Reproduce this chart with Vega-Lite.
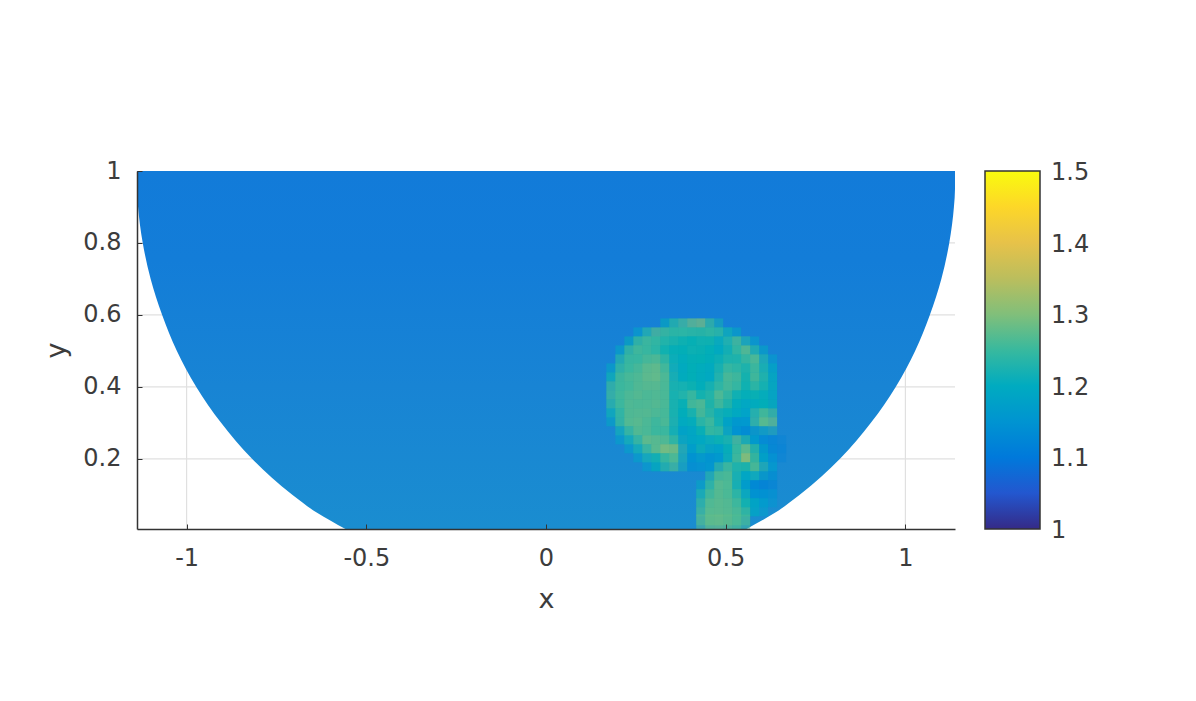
{"$schema":"https://vega.github.io/schema/vega-lite/v6.json","autosize":{"type":"none"},"padding":{"left":137,"top":171,"right":241,"bottom":172},"width":818,"height":358,"background":"white","config":{"view":{"stroke":null},"font":"DejaVu Sans"},
"datasets":{"gridx":[{"g":-1},{"g":-0.5},{"g":0},{"g":0.5},{"g":1}],"gridy":[{"g":0.2},{"g":0.4},{"g":0.6},{"g":0.8}],
"boundary":[{"y":1,"l":-1.138,"r":1.138},{"y":0.95,"l":-1.138,"r":1.138},{"y":0.9,"l":-1.135,"r":1.135},{"y":0.8,"l":-1.122,"r":1.122},{"y":0.7,"l":-1.1,"r":1.1},{"y":0.6,"l":-1.068,"r":1.068},{"y":0.5,"l":-1.027,"r":1.027},{"y":0.4,"l":-0.973,"r":0.973},{"y":0.3,"l":-0.904,"r":0.904},{"y":0.2,"l":-0.818,"r":0.818},{"y":0.1,"l":-0.706,"r":0.706},{"y":0.05,"l":-0.637,"r":0.637},{"y":0.005,"l":-0.558,"r":0.558}],
"cells":[
{"x":0.325,"y":0.55,"v":1.22},{"x":0.35,"y":0.55,"v":1.25},{"x":0.375,"y":0.55,"v":1.26},{"x":0.4,"y":0.55,"v":1.29},{"x":0.425,"y":0.55,"v":1.29},{"x":0.45,"y":0.55,"v":1.23},
{"x":0.25,"y":0.525,"v":1.19},{"x":0.275,"y":0.525,"v":1.25},{"x":0.3,"y":0.525,"v":1.27},{"x":0.325,"y":0.525,"v":1.25},{"x":0.35,"y":0.525,"v":1.24},{"x":0.375,"y":0.525,"v":1.24},{"x":0.4,"y":0.525,"v":1.23},{"x":0.425,"y":0.525,"v":1.23},{"x":0.45,"y":0.525,"v":1.25},{"x":0.475,"y":0.525,"v":1.24},{"x":0.5,"y":0.525,"v":1.2},
{"x":0.225,"y":0.5,"v":1.22},{"x":0.25,"y":0.5,"v":1.27},{"x":0.275,"y":0.5,"v":1.25},{"x":0.3,"y":0.5,"v":1.24},{"x":0.325,"y":0.5,"v":1.23},{"x":0.35,"y":0.5,"v":1.23},{"x":0.375,"y":0.5,"v":1.22},{"x":0.4,"y":0.5,"v":1.22},{"x":0.425,"y":0.5,"v":1.23},{"x":0.45,"y":0.5,"v":1.22},{"x":0.475,"y":0.5,"v":1.18},{"x":0.5,"y":0.5,"v":1.25},{"x":0.525,"y":0.5,"v":1.27},{"x":0.55,"y":0.5,"v":1.19},
{"x":0.2,"y":0.475,"v":1.2},{"x":0.225,"y":0.475,"v":1.27},{"x":0.25,"y":0.475,"v":1.25},{"x":0.275,"y":0.475,"v":1.25},{"x":0.3,"y":0.475,"v":1.24},{"x":0.325,"y":0.475,"v":1.22},{"x":0.35,"y":0.475,"v":1.21},{"x":0.375,"y":0.475,"v":1.22},{"x":0.4,"y":0.475,"v":1.23},{"x":0.425,"y":0.475,"v":1.22},{"x":0.45,"y":0.475,"v":1.21},{"x":0.475,"y":0.475,"v":1.2},{"x":0.5,"y":0.475,"v":1.23},{"x":0.525,"y":0.475,"v":1.25},{"x":0.55,"y":0.475,"v":1.29},{"x":0.575,"y":0.475,"v":1.2},
{"x":0.2,"y":0.45,"v":1.25},{"x":0.225,"y":0.45,"v":1.25},{"x":0.25,"y":0.45,"v":1.25},{"x":0.275,"y":0.45,"v":1.27},{"x":0.3,"y":0.45,"v":1.27},{"x":0.325,"y":0.45,"v":1.24},{"x":0.35,"y":0.45,"v":1.2},{"x":0.375,"y":0.45,"v":1.21},{"x":0.4,"y":0.45,"v":1.22},{"x":0.425,"y":0.45,"v":1.22},{"x":0.45,"y":0.45,"v":1.21},{"x":0.475,"y":0.45,"v":1.23},{"x":0.5,"y":0.45,"v":1.24},{"x":0.525,"y":0.45,"v":1.23},{"x":0.55,"y":0.45,"v":1.25},{"x":0.575,"y":0.45,"v":1.28},{"x":0.6,"y":0.45,"v":1.18},
{"x":0.175,"y":0.425,"v":1.2},{"x":0.2,"y":0.425,"v":1.26},{"x":0.225,"y":0.425,"v":1.25},{"x":0.25,"y":0.425,"v":1.27},{"x":0.275,"y":0.425,"v":1.28},{"x":0.3,"y":0.425,"v":1.28},{"x":0.325,"y":0.425,"v":1.25},{"x":0.35,"y":0.425,"v":1.19},{"x":0.375,"y":0.425,"v":1.21},{"x":0.4,"y":0.425,"v":1.22},{"x":0.425,"y":0.425,"v":1.2},{"x":0.45,"y":0.425,"v":1.2},{"x":0.475,"y":0.425,"v":1.24},{"x":0.5,"y":0.425,"v":1.26},{"x":0.525,"y":0.425,"v":1.24},{"x":0.55,"y":0.425,"v":1.23},{"x":0.575,"y":0.425,"v":1.26},{"x":0.6,"y":0.425,"v":1.2},
{"x":0.175,"y":0.4,"v":1.23},{"x":0.2,"y":0.4,"v":1.27},{"x":0.225,"y":0.4,"v":1.26},{"x":0.25,"y":0.4,"v":1.27},{"x":0.275,"y":0.4,"v":1.28},{"x":0.3,"y":0.4,"v":1.28},{"x":0.325,"y":0.4,"v":1.26},{"x":0.35,"y":0.4,"v":1.2},{"x":0.375,"y":0.4,"v":1.21},{"x":0.4,"y":0.4,"v":1.22},{"x":0.425,"y":0.4,"v":1.2},{"x":0.45,"y":0.4,"v":1.2},{"x":0.475,"y":0.4,"v":1.25},{"x":0.5,"y":0.4,"v":1.27},{"x":0.525,"y":0.4,"v":1.25},{"x":0.55,"y":0.4,"v":1.22},{"x":0.575,"y":0.4,"v":1.28},{"x":0.6,"y":0.4,"v":1.21},
{"x":0.175,"y":0.375,"v":1.26},{"x":0.2,"y":0.375,"v":1.25},{"x":0.225,"y":0.375,"v":1.26},{"x":0.25,"y":0.375,"v":1.27},{"x":0.275,"y":0.375,"v":1.27},{"x":0.3,"y":0.375,"v":1.27},{"x":0.325,"y":0.375,"v":1.26},{"x":0.35,"y":0.375,"v":1.21},{"x":0.375,"y":0.375,"v":1.24},{"x":0.4,"y":0.375,"v":1.22},{"x":0.425,"y":0.375,"v":1.21},{"x":0.45,"y":0.375,"v":1.24},{"x":0.475,"y":0.375,"v":1.25},{"x":0.5,"y":0.375,"v":1.26},{"x":0.525,"y":0.375,"v":1.24},{"x":0.55,"y":0.375,"v":1.22},{"x":0.575,"y":0.375,"v":1.25},{"x":0.6,"y":0.375,"v":1.21},
{"x":0.175,"y":0.35,"v":1.25},{"x":0.2,"y":0.35,"v":1.26},{"x":0.225,"y":0.35,"v":1.27},{"x":0.25,"y":0.35,"v":1.27},{"x":0.275,"y":0.35,"v":1.26},{"x":0.3,"y":0.35,"v":1.27},{"x":0.325,"y":0.35,"v":1.26},{"x":0.35,"y":0.35,"v":1.21},{"x":0.375,"y":0.35,"v":1.25},{"x":0.4,"y":0.35,"v":1.26},{"x":0.425,"y":0.35,"v":1.22},{"x":0.45,"y":0.35,"v":1.25},{"x":0.475,"y":0.35,"v":1.28},{"x":0.5,"y":0.35,"v":1.23},{"x":0.525,"y":0.35,"v":1.21},{"x":0.55,"y":0.35,"v":1.21},{"x":0.575,"y":0.35,"v":1.22},{"x":0.6,"y":0.35,"v":1.2},
{"x":0.175,"y":0.325,"v":1.24},{"x":0.2,"y":0.325,"v":1.26},{"x":0.225,"y":0.325,"v":1.27},{"x":0.25,"y":0.325,"v":1.26},{"x":0.275,"y":0.325,"v":1.27},{"x":0.3,"y":0.325,"v":1.27},{"x":0.325,"y":0.325,"v":1.26},{"x":0.35,"y":0.325,"v":1.21},{"x":0.375,"y":0.325,"v":1.22},{"x":0.4,"y":0.325,"v":1.28},{"x":0.425,"y":0.325,"v":1.27},{"x":0.45,"y":0.325,"v":1.22},{"x":0.475,"y":0.325,"v":1.27},{"x":0.5,"y":0.325,"v":1.22},{"x":0.525,"y":0.325,"v":1.2},{"x":0.55,"y":0.325,"v":1.19},{"x":0.575,"y":0.325,"v":1.21},{"x":0.6,"y":0.325,"v":1.22},
{"x":0.175,"y":0.3,"v":1.2},{"x":0.2,"y":0.3,"v":1.26},{"x":0.225,"y":0.3,"v":1.27},{"x":0.25,"y":0.3,"v":1.27},{"x":0.275,"y":0.3,"v":1.27},{"x":0.3,"y":0.3,"v":1.26},{"x":0.325,"y":0.3,"v":1.26},{"x":0.35,"y":0.3,"v":1.21},{"x":0.375,"y":0.3,"v":1.21},{"x":0.4,"y":0.3,"v":1.23},{"x":0.425,"y":0.3,"v":1.27},{"x":0.45,"y":0.3,"v":1.23},{"x":0.475,"y":0.3,"v":1.2},{"x":0.5,"y":0.3,"v":1.21},{"x":0.525,"y":0.3,"v":1.19},{"x":0.55,"y":0.3,"v":1.18},{"x":0.575,"y":0.3,"v":1.26},{"x":0.6,"y":0.3,"v":1.27},
{"x":0.2,"y":0.275,"v":1.25},{"x":0.225,"y":0.275,"v":1.28},{"x":0.25,"y":0.275,"v":1.27},{"x":0.275,"y":0.275,"v":1.26},{"x":0.3,"y":0.275,"v":1.25},{"x":0.325,"y":0.275,"v":1.27},{"x":0.35,"y":0.275,"v":1.2},{"x":0.375,"y":0.275,"v":1.2},{"x":0.4,"y":0.275,"v":1.21},{"x":0.425,"y":0.275,"v":1.25},{"x":0.45,"y":0.275,"v":1.26},{"x":0.475,"y":0.275,"v":1.21},{"x":0.5,"y":0.275,"v":1.16},{"x":0.525,"y":0.275,"v":1.15},{"x":0.55,"y":0.275,"v":1.16},{"x":0.575,"y":0.275,"v":1.26},{"x":0.6,"y":0.275,"v":1.28},
{"x":0.2,"y":0.25,"v":1.19},{"x":0.225,"y":0.25,"v":1.26},{"x":0.25,"y":0.25,"v":1.27},{"x":0.275,"y":0.25,"v":1.26},{"x":0.3,"y":0.25,"v":1.25},{"x":0.325,"y":0.25,"v":1.25},{"x":0.35,"y":0.25,"v":1.2},{"x":0.375,"y":0.25,"v":1.17},{"x":0.4,"y":0.25,"v":1.2},{"x":0.425,"y":0.25,"v":1.22},{"x":0.45,"y":0.25,"v":1.26},{"x":0.475,"y":0.25,"v":1.24},{"x":0.5,"y":0.25,"v":1.17},{"x":0.525,"y":0.25,"v":1.14},{"x":0.55,"y":0.25,"v":1.13},{"x":0.575,"y":0.25,"v":1.15},{"x":0.6,"y":0.25,"v":1.15},
{"x":0.225,"y":0.225,"v":1.19},{"x":0.25,"y":0.225,"v":1.26},{"x":0.275,"y":0.225,"v":1.29},{"x":0.3,"y":0.225,"v":1.27},{"x":0.325,"y":0.225,"v":1.27},{"x":0.35,"y":0.225,"v":1.24},{"x":0.375,"y":0.225,"v":1.17},{"x":0.4,"y":0.225,"v":1.2},{"x":0.425,"y":0.225,"v":1.19},{"x":0.45,"y":0.225,"v":1.2},{"x":0.475,"y":0.225,"v":1.22},{"x":0.5,"y":0.225,"v":1.24},{"x":0.525,"y":0.225,"v":1.28},{"x":0.55,"y":0.225,"v":1.21},{"x":0.575,"y":0.225,"v":1.15},{"x":0.6,"y":0.225,"v":1.12},{"x":0.625,"y":0.225,"v":1.12},
{"x":0.25,"y":0.2,"v":1.19},{"x":0.275,"y":0.2,"v":1.26},{"x":0.3,"y":0.2,"v":1.28},{"x":0.325,"y":0.2,"v":1.31},{"x":0.35,"y":0.2,"v":1.29},{"x":0.375,"y":0.2,"v":1.17},{"x":0.4,"y":0.2,"v":1.17},{"x":0.425,"y":0.2,"v":1.23},{"x":0.45,"y":0.2,"v":1.16},{"x":0.475,"y":0.2,"v":1.18},{"x":0.5,"y":0.2,"v":1.22},{"x":0.525,"y":0.2,"v":1.26},{"x":0.55,"y":0.2,"v":1.3},{"x":0.575,"y":0.2,"v":1.22},{"x":0.6,"y":0.2,"v":1.15},{"x":0.625,"y":0.2,"v":1.12},
{"x":0.275,"y":0.175,"v":1.18},{"x":0.3,"y":0.175,"v":1.22},{"x":0.325,"y":0.175,"v":1.25},{"x":0.35,"y":0.175,"v":1.26},{"x":0.375,"y":0.175,"v":1.16},{"x":0.4,"y":0.175,"v":1.14},{"x":0.425,"y":0.175,"v":1.16},{"x":0.45,"y":0.175,"v":1.14},{"x":0.475,"y":0.175,"v":1.17},{"x":0.5,"y":0.175,"v":1.23},{"x":0.525,"y":0.175,"v":1.27},{"x":0.55,"y":0.175,"v":1.33},{"x":0.575,"y":0.175,"v":1.22},{"x":0.6,"y":0.175,"v":1.16},
{"x":0.45,"y":0.15,"v":1.17},{"x":0.475,"y":0.15,"v":1.26},{"x":0.5,"y":0.15,"v":1.26},{"x":0.525,"y":0.15,"v":1.21},{"x":0.55,"y":0.15,"v":1.22},{"x":0.575,"y":0.15,"v":1.29},{"x":0.6,"y":0.15,"v":1.17},
{"x":0.45,"y":0.125,"v":1.25},{"x":0.475,"y":0.125,"v":1.27},{"x":0.5,"y":0.125,"v":1.26},{"x":0.525,"y":0.125,"v":1.2},{"x":0.55,"y":0.125,"v":1.18},{"x":0.575,"y":0.125,"v":1.19},{"x":0.6,"y":0.125,"v":1.13},
{"x":0.425,"y":0.1,"v":1.2},{"x":0.45,"y":0.1,"v":1.26},{"x":0.475,"y":0.1,"v":1.28},{"x":0.5,"y":0.1,"v":1.26},{"x":0.525,"y":0.1,"v":1.2},{"x":0.55,"y":0.1,"v":1.15},{"x":0.575,"y":0.1,"v":1.1},{"x":0.6,"y":0.1,"v":1.12},
{"x":0.425,"y":0.075,"v":1.24},{"x":0.45,"y":0.075,"v":1.27},{"x":0.475,"y":0.075,"v":1.27},{"x":0.5,"y":0.075,"v":1.26},{"x":0.525,"y":0.075,"v":1.24},{"x":0.55,"y":0.075,"v":1.19},{"x":0.575,"y":0.075,"v":1.14},{"x":0.6,"y":0.075,"v":1.16},
{"x":0.425,"y":0.05,"v":1.25},{"x":0.45,"y":0.05,"v":1.28},{"x":0.475,"y":0.05,"v":1.27},{"x":0.5,"y":0.05,"v":1.27},{"x":0.525,"y":0.05,"v":1.25},{"x":0.55,"y":0.05,"v":1.22},{"x":0.575,"y":0.05,"v":1.18},
{"x":0.425,"y":0.025,"v":1.26},{"x":0.45,"y":0.025,"v":1.28},{"x":0.475,"y":0.025,"v":1.27},{"x":0.5,"y":0.025,"v":1.27},{"x":0.525,"y":0.025,"v":1.26},
{"x":0.425,"y":0.005,"v":1.27},{"x":0.45,"y":0.005,"v":1.28},{"x":0.475,"y":0.005,"v":1.28},{"x":0.5,"y":0.005,"v":1.27},{"x":0.525,"y":0.005,"v":1.26}
]},
"layer":[
{"data":{"name":"gridx"},"mark":{"type":"rule","color":"#e0e0e0","strokeWidth":1.2},"encoding":{"x":{"field":"g","type":"quantitative","scale":{"domain":[-1.138,1.138]},"axis":{"values":[-1,-0.5,0,0.5,1],"labelExpr":"''+datum.value","title":"x","titleFontSize":27,"titleFontWeight":"normal","titleColor":"#3c3c3c","titlePadding":16,"labelFontSize":24,"labelColor":"#3c3c3c","labelPadding":22,"tickSize":-5,"tickColor":"#333","tickWidth":1,"domainColor":"#333","domainWidth":1.5,"grid":false,"zindex":1}}}},
{"data":{"name":"gridy"},"mark":{"type":"rule","color":"#e0e0e0","strokeWidth":1.2},"encoding":{"y":{"field":"g","type":"quantitative","scale":{"domain":[0.005,1]},"axis":{"values":[0.2,0.4,0.6,0.8,1],"labelExpr":"''+datum.value","title":"y","titleFontSize":27,"titleFontWeight":"normal","titleColor":"#3c3c3c","titlePadding":12,"labelFontSize":24,"labelColor":"#3c3c3c","labelPadding":21,"tickSize":-5,"tickColor":"#333","tickWidth":1,"domainColor":"#333","domainWidth":1.5,"grid":false,"zindex":1}}}},
{"data":{"name":"boundary"},"mark":{"type":"area","orient":"horizontal","interpolate":"monotone","color":{"gradient":"linear","x1":0,"y1":0,"x2":0,"y2":1,"stops":[{"offset":0,"color":"#127bd9"},{"offset":0.25,"color":"#137dd8"},{"offset":0.6,"color":"#1884d4"},{"offset":1,"color":"#1a8dd0"}]}},
"encoding":{"y":{"field":"y","type":"quantitative","scale":{"domain":[0.005,1]}},
"x":{"field":"l","type":"quantitative","scale":{"domain":[-1.138,1.138]}},
"x2":{"field":"r"}}},
{"data":{"name":"cells"},"mark":{"type":"rect","binSpacing":0,"opacity":0.5,"clip":true,"xOffset":-3,"yOffset":3},
"encoding":{"x":{"field":"x","type":"quantitative","bin":{"binned":true,"step":0.05},"scale":{"domain":[-1.138,1.138]}},"y":{"field":"y","type":"quantitative","bin":{"binned":true,"step":0.05},"scale":{"domain":[0.005,1]}},
"color":{"field":"v","type":"quantitative","scale":{"domain":[1,1.0625,1.125,1.1875,1.25,1.3125,1.375,1.4375,1.5],"range":["#352a87","#0363e1","#1485d4","#06a7c6","#38b99e","#92bf73","#d9ba56","#fcce2e","#f9fb0e"]},"legend":{"type":"gradient","orient":"none","legendX":848,"legendY":0,"title":null,"gradientLength":358,"gradientThickness":55,"gradientStrokeColor":"#333","gradientStrokeWidth":1.5,"gradientOpacity":1,"values":[1,1.1,1.2,1.3,1.4,1.5],"labelExpr":"''+datum.value","labelFontSize":24,"labelColor":"#3c3c3c","labelOffset":11,"encode":{"labels":{"update":{"baseline":{"value":"middle"},"dy":{"value":2}}}}}}}}
],
"resolve":{"scale":{"x":"shared","y":"shared"}}}
